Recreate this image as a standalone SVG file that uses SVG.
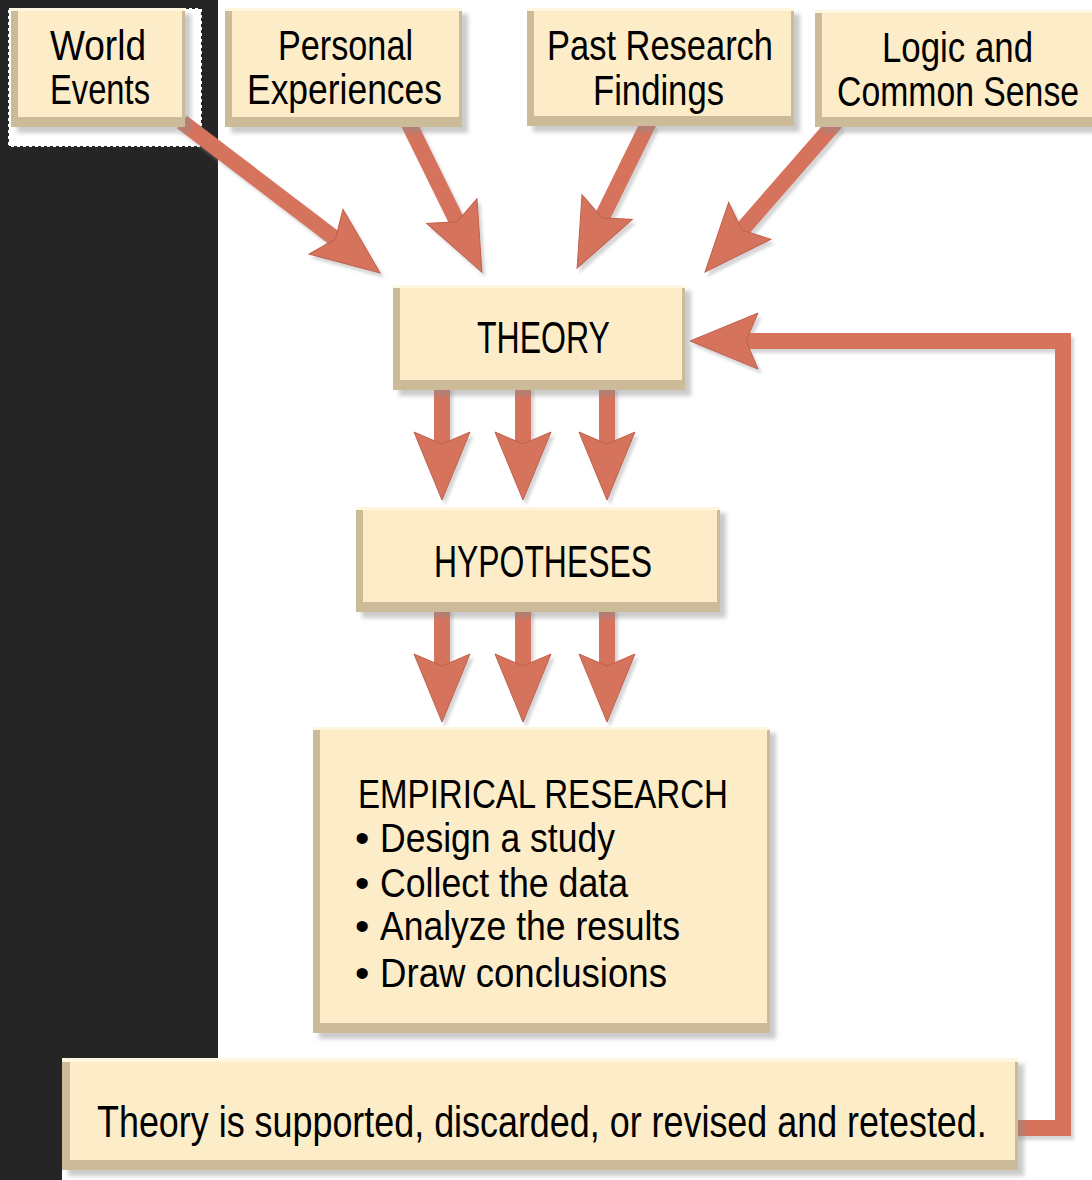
<svg xmlns="http://www.w3.org/2000/svg" width="1092" height="1180" viewBox="0 0 1092 1180">
  <style>
    .lbl { font-family: "Liberation Sans", "DejaVu Sans", Arial, sans-serif; fill: #000; }
    .big { font-size: 44px; }
    .two { font-size: 42px; }
    .mid { font-size: 41px; }
    .edge { fill: #cbbb99; }
    .face { fill: #fcecc8; }
    .hilite { fill: #fff6df; }
    .conn { fill: none; stroke: #d6735d; stroke-width: 16; stroke-linejoin: miter; }
  </style>
  <defs>
    <filter id="drop" x="-10%" y="-10%" width="130%" height="130%">
      <feDropShadow dx="6" dy="6" stdDeviation="2" flood-color="#8c8c8c" flood-opacity="0.45"/>
    </filter>
    <filter id="arrowDrop" x="-20%" y="-20%" width="140%" height="140%">
      <feDropShadow dx="3" dy="4" stdDeviation="1.5" flood-color="#999" flood-opacity="0.4"/>
    </filter>
    <marker id="head" markerUnits="userSpaceOnUse" orient="auto" refX="-50" refY="0"
            markerWidth="80" markerHeight="60" viewBox="-70 -30 80 60" overflow="visible">
      <path d="M0,0 L-68,-28 L-56,0 L-68,28 Z" fill="#d6735d" stroke="#c0604c" stroke-width="1"/>
    </marker>
  </defs>

  <!-- page background: white sheet with dark margin strip -->
  <rect x="0" y="0" width="1092" height="1180" fill="#ffffff"/>
  <path d="M0,0 H218 V1058 H62 V1180 H0 Z" fill="#252525"/>
  <!-- light halo behind the first source box -->
  <rect x="9" y="9" width="192" height="137" fill="#ffffff" stroke="#ffffff" stroke-width="2" stroke-dasharray="3 3"/>

  <!-- connectors -->
  <g id="connectors" filter="url(#arrowDrop)">
    <line class="conn" x1="182" y1="122" x2="340.3" y2="242.6" marker-end="url(#head)"/>
    <line class="conn" x1="408" y1="122" x2="459.8" y2="227.2" marker-end="url(#head)"/>
    <line class="conn" x1="649" y1="122" x2="599.2" y2="223.2" marker-end="url(#head)"/>
    <line class="conn" x1="836" y1="122" x2="737.9" y2="234.4" marker-end="url(#head)"/>

    <line class="conn" x1="442" y1="386" x2="442" y2="450" marker-end="url(#head)"/>
    <line class="conn" x1="523" y1="386" x2="523" y2="450" marker-end="url(#head)"/>
    <line class="conn" x1="607" y1="386" x2="607" y2="450" marker-end="url(#head)"/>

    <line class="conn" x1="442" y1="608" x2="442" y2="672" marker-end="url(#head)"/>
    <line class="conn" x1="523" y1="608" x2="523" y2="672" marker-end="url(#head)"/>
    <line class="conn" x1="607" y1="608" x2="607" y2="672" marker-end="url(#head)"/>

    <polyline class="conn" points="1010,1128 1063,1128 1063,341 740,341" marker-end="url(#head)"/>
  </g>

  <!-- source boxes -->
  <g id="world-events">
    <rect class="edge" x="11" y="8" width="174" height="119" filter="url(#drop)"/>
    <rect class="hilite" x="11" y="8" width="174" height="3"/>
    <rect class="face" x="18" y="11" width="164" height="106"/>
    <text class="lbl two" x="50" y="60" textLength="96" lengthAdjust="spacingAndGlyphs">World</text>
    <text class="lbl two" x="50" y="104" textLength="100" lengthAdjust="spacingAndGlyphs">Events</text>
  </g>

  <g id="personal-experiences">
    <rect class="edge" x="225" y="8" width="237" height="119" filter="url(#drop)"/>
    <rect class="hilite" x="225" y="8" width="237" height="3"/>
    <rect class="face" x="232" y="11" width="227" height="106"/>
    <text class="lbl two" x="278" y="60" textLength="135" lengthAdjust="spacingAndGlyphs">Personal</text>
    <text class="lbl two" x="247" y="104" textLength="195" lengthAdjust="spacingAndGlyphs">Experiences</text>
  </g>

  <g id="past-research">
    <rect class="edge" x="527" y="8" width="267" height="118" filter="url(#drop)"/>
    <rect class="hilite" x="527" y="8" width="267" height="3"/>
    <rect class="face" x="534" y="11" width="257" height="105"/>
    <text class="lbl two" x="547" y="60" textLength="226" lengthAdjust="spacingAndGlyphs">Past Research</text>
    <text class="lbl two" x="593" y="105" textLength="131" lengthAdjust="spacingAndGlyphs">Findings</text>
  </g>

  <g id="logic-common-sense">
    <rect class="edge" x="815" y="10" width="277" height="117" filter="url(#drop)"/>
    <rect class="hilite" x="815" y="10" width="277" height="3"/>
    <rect class="face" x="822" y="13" width="270" height="104"/>
    <text class="lbl two" x="882" y="62" textLength="151" lengthAdjust="spacingAndGlyphs">Logic and</text>
    <!-- condensed by a horizontal scale so the line stays inside the box -->
    <text class="lbl two" transform="translate(837,106) scale(0.804,1)" x="0" y="0">Common Sense</text>
  </g>

  <!-- main flow -->
  <g id="theory">
    <rect class="edge" x="393" y="285" width="292" height="105" filter="url(#drop)"/>
    <rect class="hilite" x="393" y="285" width="292" height="3"/>
    <rect class="face" x="400" y="288" width="282" height="92"/>
    <text class="lbl big" x="477" y="353" textLength="133" lengthAdjust="spacingAndGlyphs">THEORY</text>
  </g>

  <g id="hypotheses">
    <rect class="edge" x="356" y="507" width="364" height="105" filter="url(#drop)"/>
    <rect class="hilite" x="356" y="507" width="364" height="3"/>
    <rect class="face" x="363" y="510" width="354" height="92"/>
    <text class="lbl big" x="434" y="577" textLength="218" lengthAdjust="spacingAndGlyphs">HYPOTHESES</text>
  </g>

  <g id="empirical-research">
    <rect class="edge" x="313" y="727" width="457" height="306" filter="url(#drop)"/>
    <rect class="hilite" x="313" y="727" width="457" height="3"/>
    <rect class="face" x="320" y="730" width="447" height="293"/>
    <text class="lbl mid" x="358" y="808" textLength="370" lengthAdjust="spacingAndGlyphs">EMPIRICAL RESEARCH</text>
    <text class="lbl mid" x="355" y="852">•</text>
    <text class="lbl mid" x="380" y="852" textLength="235" lengthAdjust="spacingAndGlyphs">Design a study</text>
    <text class="lbl mid" x="355" y="897">•</text>
    <text class="lbl mid" x="380" y="897" textLength="248" lengthAdjust="spacingAndGlyphs">Collect the data</text>
    <text class="lbl mid" x="355" y="940">•</text>
    <text class="lbl mid" x="380" y="940" textLength="300" lengthAdjust="spacingAndGlyphs">Analyze the results</text>
    <text class="lbl mid" x="355" y="987">•</text>
    <text class="lbl mid" x="380" y="987" textLength="287" lengthAdjust="spacingAndGlyphs">Draw conclusions</text>
  </g>

  <g id="outcome">
    <rect class="edge" x="62" y="1058" width="956" height="112" filter="url(#drop)"/>
    <rect class="hilite" x="62" y="1058" width="956" height="4"/>
    <rect class="face" x="70" y="1062" width="945" height="98"/>
    <!-- condensed by a horizontal scale so the sentence fits the box -->
    <text class="lbl big" transform="translate(97,1137) scale(0.816,1)" x="0" y="0">Theory is supported, discarded, or revised and retested.</text>
  </g>
</svg>
